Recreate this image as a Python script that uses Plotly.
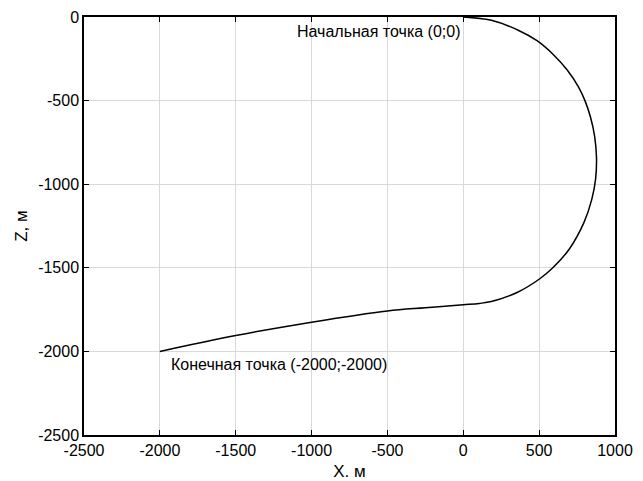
import plotly.graph_objects as go

x_vals = [0, 185, 362, 486, 596, 685, 758, 802, 840, 866, 878, 872, 847, 795, 698, 592, 502, 358, 185, 105, 0, -250, -500, -1000, -1500, -2000]
z_vals = [0, -20, -79, -142, -227, -317, -416, -500, -604, -715, -840, -970, -1091, -1230, -1389, -1498, -1567, -1646, -1702, -1713, -1721, -1739, -1758, -1825, -1905, -2000]

x_ticks = [-2500, -2000, -1500, -1000, -500, 0, 500, 1000]
z_ticks = [0, -500, -1000, -1500, -2000, -2500]

start_label = "Начальная точка (0;0)"
end_label = "Конечная точка (-2000;-2000)"

fig = go.Figure()
fig.add_trace(go.Scatter(x=x_vals, y=z_vals, mode="lines",
                         line=dict(color="black", width=1.5, shape="spline", smoothing=1.0),
                         showlegend=False, hoverinfo="skip"))

fig.add_annotation(x=-10, y=-84, text=start_label, showarrow=False, xanchor="right", yanchor="middle",
                   font=dict(size=16, color="black"))
fig.add_annotation(x=-1942, y=-2081, text=end_label, showarrow=False, xanchor="left", yanchor="middle",
                   font=dict(size=16, color="black"))

axis_common = dict(showline=True, linecolor="black", linewidth=1.5, mirror="ticks",
                   ticks="inside", ticklen=5, tickcolor="black", showgrid=True,
                   gridcolor="#d9d9d9", gridwidth=1, zeroline=False, automargin=False,
                   tickfont=dict(size=16, color="black"))

fig.update_xaxes(range=[-2500, 1000], tickvals=x_ticks, ticktext=[str(v) for v in x_ticks],
                 title=dict(text="X. м", font=dict(size=17, color="black"), standoff=9), **axis_common)
fig.update_yaxes(range=[-2500, 0], tickvals=z_ticks, ticktext=[str(v) for v in z_ticks],
                 title=dict(text="Z, м", font=dict(size=17, color="black"), standoff=6), **axis_common)

fig.update_layout(width=635, height=473, margin=dict(l=76, r=28, t=9, b=46, autoexpand=False),
                  plot_bgcolor="white", paper_bgcolor="white",
                  font=dict(family="Liberation Sans, Arial, sans-serif", color="black"))

fig.write_html("out.html")
